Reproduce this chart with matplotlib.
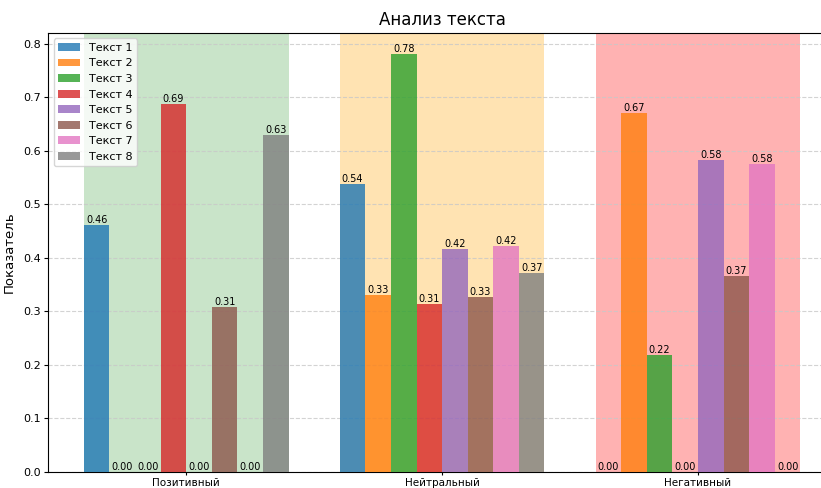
import numpy as np
import matplotlib
matplotlib.use("Agg")
import matplotlib.pyplot as plt

categories = ["Позитивный", "Нейтральный", "Негативный"]
text_labels = ["Текст 1", "Текст 2", "Текст 3", "Текст 4",
               "Текст 5", "Текст 6", "Текст 7", "Текст 8"]

# scores per text: [positive, neutral, negative]
scores = [
    [0.461, 0.538, 0.000],
    [0.000, 0.330, 0.670],
    [0.000, 0.781, 0.219],
    [0.687, 0.313, 0.000],
    [0.000, 0.417, 0.583],
    [0.309, 0.326, 0.366],
    [0.000, 0.422, 0.576],
    [0.629, 0.371, 0.000],
]

span_colors = ["green", "orange", "red"]
span_alpha = [0.21, 0.3, 0.3]


def plot_sentiment():
    fig = plt.figure(figsize=(8.21, 4.88), dpi=100)
    ax = fig.add_axes([0.0585, 0.0328, 0.96, 0.8997])

    x = np.arange(len(categories))
    width = 0.1
    n = len(text_labels)
    colors = plt.cm.tab10.colors

    # shaded background for each sentiment group
    for i, c in enumerate(span_colors):
        ax.axvspan(x[i] - width * n / 2, x[i] + width * n / 2,
                   color=c, alpha=span_alpha[i], zorder=0, lw=0)

    for j, (label, vals) in enumerate(zip(text_labels, scores)):
        pos = x - width * n / 2 + width * (j + 0.5)
        bars = ax.bar(pos, vals, width, label=label, color=colors[j],
                      alpha=0.8, zorder=3)
        for b in bars:
            h = b.get_height()
            ax.text(b.get_x() + b.get_width() / 2, h, f"{h:.2f}",
                    ha="center", va="bottom", fontsize=7, zorder=4)

    ax.set_title("Анализ текста", fontsize=12)
    ax.set_ylabel("Показатель", fontsize=9.5)
    ax.yaxis.set_label_coords(-0.041, 0.5)
    ax.set_xticks(x)
    ax.set_xticklabels(categories, fontsize=7.5)
    ax.tick_params(axis="x", length=2.5, pad=1.5)
    ax.tick_params(axis="y", labelsize=8, length=3, pad=2)
    ax.set_xlim(-0.54, 2.54)
    ax.set_ylim(0, 0.82)
    ax.yaxis.grid(True, linestyle="--", color="#c8c8c8", alpha=0.8, zorder=1)
    ax.legend(loc="upper left", fontsize=8)

    plt.savefig("out.png", dpi=100)
    plt.close()


if __name__ == "__main__":
    plot_sentiment()
